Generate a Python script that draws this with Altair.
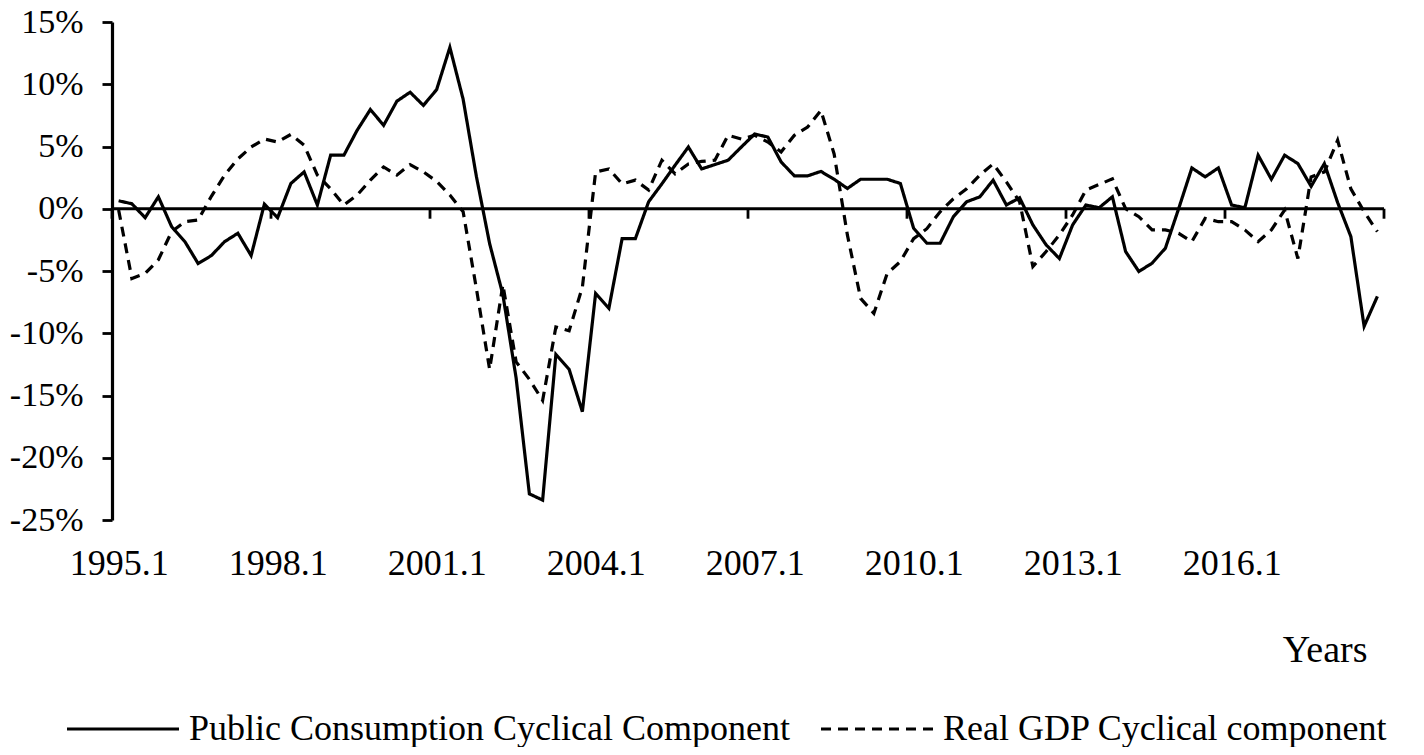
import altair as alt
import pandas as pd

# Public consumption cyclical component (% deviation), quarterly from 1995.1
public = [0.64, 0.4, -0.72, 0.96, -1.44, -2.64, -4.4, -3.76, -2.64, -1.97, -3.76, 0.37,
          -0.72, 2.03, 2.96, 0.3, 4.3, 4.3, 6.3, 7.97, 6.7, 8.64, 9.36, 8.3,
          9.57, 12.96, 8.8, 2.6, -2.8, -6.9, -13.6, -22.9, -23.4, -11.7, -12.9, -16.3,
          -6.8, -8.0, -2.4, -2.4, 0.56, 2.0, 3.5, 4.96, 3.2, 3.55, 3.9, 4.96,
          6.0, 5.76, 3.76, 2.64, 2.64, 3.0, 2.37, 1.63, 2.37, 2.37, 2.37, 2.03,
          -1.57, -2.77, -2.77, -0.64, 0.56, 0.96, 2.3, 0.3, 0.88, -1.3, -2.9, -4.0,
          -1.3, 0.3, 0.08, 0.96, -3.44, -5.04, -4.37, -3.17, 0.0, 3.28, 2.56, 3.28,
          0.3, 0.08, 4.3, 2.37, 4.3, 3.63, 1.8, 3.63, 0.5, -2.24, -9.44, -7.04]

# Real GDP cyclical component (% deviation)
gdp = [-0.1, -5.6, -5.2, -4.1, -1.84, -1.04, -0.9, 1.0, 2.7, 4.0, 4.96, 5.6,
       5.36, 5.97, 5.1, 2.7, 1.6, 0.3, 1.1, 2.3, 3.36, 2.7, 3.55, 2.96,
       2.2, 1.1, -0.24, -6.4, -12.9, -6.1, -12.3, -13.7, -15.4, -9.5, -9.8, -6.3,
       2.96, 3.2, 2.0, 2.3, 1.5, 3.9, 2.8, 3.6, 3.8, 3.9, 5.9, 5.6,
       5.9, 5.36, 4.56, 5.9, 6.56, 7.9, 4.4, -2.1, -7.2, -8.4, -5.2, -4.24,
       -2.4, -1.6, -0.24, 0.8, 1.6, 2.7, 3.6, 2.16, 0.56, -4.64, -3.44, -2.1,
       -0.5, 1.5, 1.95, 2.4, 0.0, -0.64, -1.7, -1.7, -1.97, -2.64, -0.77, -1.04,
       -1.04, -1.7, -2.64, -1.7, -0.1, -4.0, 2.56, 2.96, 5.5, 1.6, -0.24, -1.84]

start_year = 1995
quarters = [f"{start_year + k // 4}.{k % 4 + 1}" for k in range(len(public))]
tick_labels = ["1995.1", "1998.1", "2001.1", "2004.1", "2007.1", "2010.1", "2013.1", "2016.1"]
y_ticks = [-25, -20, -15, -10, -5, 0, 5, 10, 15]
series_names = ["Public Consumption Cyclical Component", "Real GDP Cyclical component"]

FONT = "Liberation Serif"
FS = 36
LW = 3.2

rows = []
for i, q in enumerate(quarters):
    rows.append({"t": i + 0.5, "quarter": q, "value": public[i], "series": series_names[0]})
    rows.append({"t": i + 0.5, "quarter": q, "value": gdp[i], "series": series_names[1]})
df = pd.DataFrame(rows)

n = len(quarters)
tick_pos = [quarters.index(l) + 0.5 for l in tick_labels]
edges = pd.DataFrame({"t": list(range(0, n + 1, 12))})
label_expr = "[" + ",".join(f"'{l}'" for l in tick_labels) + "][floor(datum.value / 12)]"

xscale = alt.Scale(domain=[0, n], nice=False, zero=False)
yscale = alt.Scale(domain=[-25, 15], nice=False, zero=False)

lines = alt.Chart(df).mark_line(color="black", strokeWidth=LW).encode(
    x=alt.X("t:Q", scale=xscale,
            axis=alt.Axis(values=tick_pos, labelExpr=label_expr, domain=False, ticks=False,
                          grid=False, labelFont=FONT, labelFontSize=FS, labelColor="black",
                          labelPadding=43, labelBaseline="middle", labelFlush=False,
                          labelOverlap=False, title="Years", titleFont=FONT,
                          titleFontSize=38, titleFontWeight="normal", titleColor="black",
                          titleX=1255, titleY=130, titleAlign="right",
                          titleBaseline="middle")),
    y=alt.Y("value:Q", scale=yscale,
            axis=alt.Axis(values=y_ticks, labelExpr="datum.value + '%'", domainColor="black",
                          domainWidth=LW, tickColor="black", tickWidth=2.8, tickSize=10,
                          labelFont=FONT, labelFontSize=34, labelColor="black",
                          labelPadding=19, grid=False, title=None)),
    strokeDash=alt.StrokeDash(
        "series:N",
        scale=alt.Scale(domain=series_names, range=[[1, 0], [10, 7]]),
        legend=alt.Legend(orient="none", legendX=-47, legendY=649, direction="horizontal",
                          title=None, symbolType="stroke", symbolSize=12544,
                          symbolStrokeWidth=LW, symbolStrokeColor="black",
                          labelFont=FONT, labelFontSize=36, labelColor="black",
                          labelLimit=1000, labelOffset=8, columnPadding=24, padding=0)),
)

zero_line = alt.Chart(pd.DataFrame({"k": [0]})).mark_rule(color="black", strokeWidth=LW).encode(
    x=alt.X(datum=0), x2=alt.X2(datum=n), y=alt.Y(datum=0)
)

ticks = alt.Chart(edges).mark_rule(color="black", strokeWidth=2.8).encode(
    x="t:Q", y=alt.Y(datum=0), y2=alt.Y2(datum=-0.8)
)

chart = alt.layer(lines, zero_line, ticks).properties(
    width=1272, height=498,
    autosize=alt.AutoSizeParams(type="none"),
    padding={"left": 104, "top": 14, "right": 32, "bottom": 227},
    background="white",
).configure_view(stroke=None)

chart.save("out.html", embed_options={"renderer": "svg", "actions": False})
